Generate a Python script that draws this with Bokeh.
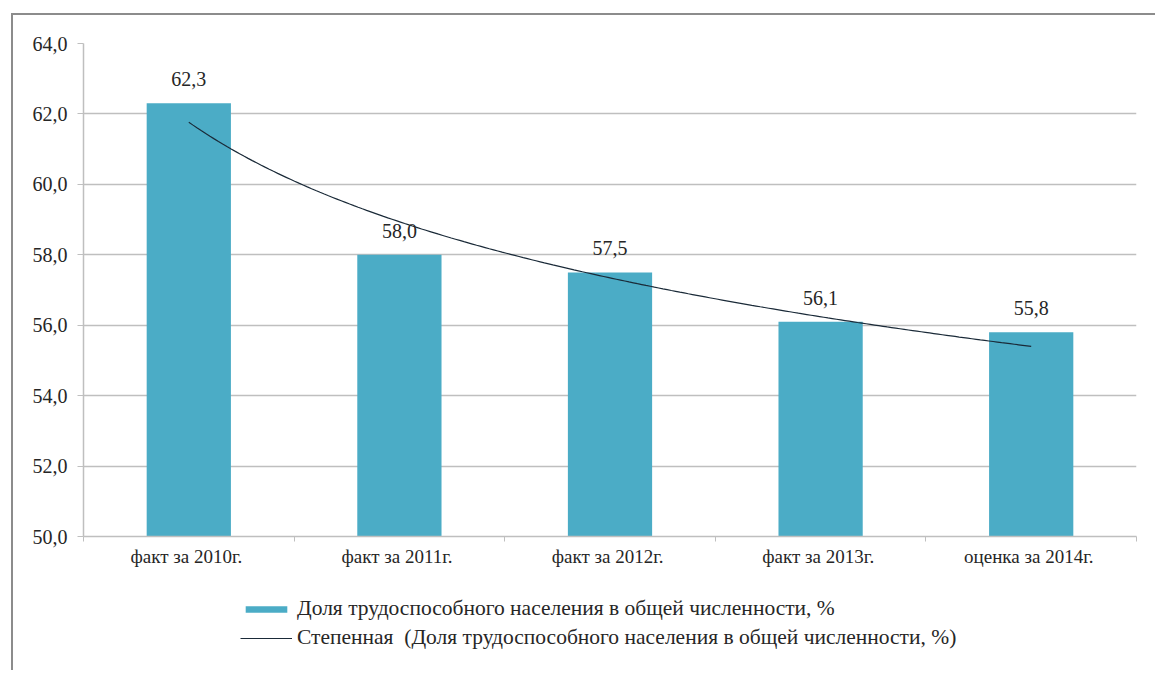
import numpy as np
from bokeh.plotting import figure
from bokeh.layouts import column
from bokeh.models import (ColumnDataSource, FixedTicker, Legend, LegendItem, Range1d)
from bokeh.core.properties import value
from bokeh.embed import file_html
from bokeh.resources import INLINE

categories = ["факт за  2010г.", "факт за  2011г.", "факт за  2012г.", "факт за  2013г.", "оценка за  2014г."]
shares = [62.3, 58.0, 57.5, 56.1, 55.8]
y_ticks = [50, 52, 54, 56, 58, 60, 62, 64]
bar_label = "Доля трудоспособного населения в общей численности, %"
trend_label = "Степенная  (Доля трудоспособного населения в общей численности, %)"

FONT = "Liberation Serif"
TXT = "#262626"
GRID = "#bfbfbf"
BAR = "#4BACC6"
TREND = "#1a2a38"

n = len(categories)
xc = [i + 0.5 for i in range(n)]
labels = [f"{v:.1f}".replace(".", ",") for v in shares]
src = ColumnDataSource(dict(x=xc, y=shares, lab=labels))

# power trend y = a * k^b fitted on (k, y), k = 1..n
k = np.arange(1, n + 1)
b, ln_a = np.polyfit(np.log(k), np.log(shares), 1)
kk = np.linspace(1, n, 200)
trend_y = np.exp(ln_a) * kk ** b
trend_x = kk - 0.5

p = figure(width=1142, height=575, output_backend="svg", toolbar_location=None,
           x_range=Range1d(0, n), y_range=Range1d(50, 64),
           min_border_left=70, min_border_top=28, min_border_right=19, min_border_bottom=54)
p.outline_line_color = None
p.background_fill_color = "white"
p.border_fill_color = "white"

p.vbar(x="x", top="y", bottom=50, width=0.4, source=src, fill_color=BAR, line_color=None)
p.line(trend_x, trend_y, line_color=TREND, line_width=1.2)
p.text(x="x", y="y", text="lab", source=src, text_align="center", text_baseline="bottom",
       y_offset=-17, text_font=value(FONT), text_font_size="20px", text_color=TXT)

# y axis
p.yaxis.ticker = FixedTicker(ticks=y_ticks)
p.yaxis.major_label_overrides = {t: f"{t:.1f}".replace(".", ",") for t in y_ticks}
p.yaxis.major_label_text_font = FONT
p.yaxis.major_label_text_font_size = "20px"
p.yaxis.major_label_text_color = TXT
p.yaxis.axis_line_color = GRID
p.yaxis.axis_line_width = 1.5
p.yaxis.major_tick_line_color = GRID
p.yaxis.major_tick_out = 6
p.yaxis.major_tick_in = 0
p.yaxis.minor_tick_line_color = None
p.yaxis.major_label_standoff = 10

# x axis: labels at centres, tick marks at boundaries
p.xaxis.ticker = FixedTicker(ticks=xc, minor_ticks=list(range(n + 1)))
p.xaxis.major_label_overrides = {x: c for x, c in zip(xc, categories)}
p.xaxis.major_label_text_font = FONT
p.xaxis.major_label_text_font_size = "19px"
p.xaxis.major_label_text_color = TXT
p.xaxis.axis_line_color = GRID
p.xaxis.axis_line_width = 1.5
p.xaxis.major_tick_line_color = None
p.xaxis.major_tick_out = 0
p.xaxis.major_tick_in = 0
p.xaxis.minor_tick_line_color = GRID
p.xaxis.minor_tick_out = 5
p.xaxis.minor_tick_in = 0
p.xaxis.major_label_standoff = 4

p.xgrid.grid_line_color = None
p.ygrid.ticker = FixedTicker(ticks=y_ticks)
p.ygrid.grid_line_color = GRID
p.ygrid.grid_line_width = 1.5

# legend lives in its own small figure below the chart (frame aligned with the chart's frame)
lf = figure(width=1142, height=80, output_backend="svg", toolbar_location=None,
            x_range=Range1d(0, 1), y_range=Range1d(0, 1), x_axis_type=None, y_axis_type=None,
            min_border=0)
lf.outline_line_color = None
lf.border_fill_color = "white"
lg_bar = lf.vbar(x=[-10], top=[-10], bottom=[-11], width=0.4, fill_color=BAR, line_color=None)
lg_line = lf.line(x=[-10, -9], y=[-10, -10], line_color=TREND, line_width=1.2)
legend = Legend(items=[LegendItem(label=bar_label, renderers=[lg_bar]),
                       LegendItem(label=trend_label, renderers=[lg_line])],
                location=(157, 20), orientation="vertical",
                label_text_font=FONT, label_text_font_size="21.5px", label_text_color=TXT,
                glyph_width=52, glyph_height=8, label_height=20, spacing=4,
                label_standoff=5, padding=0, margin=0,
                border_line_color=None, background_fill_color=None)
lf.add_layout(legend, "center")

layout = column(p, lf, spacing=0,
                styles={"border-left": "2px solid #8c8c8c", "border-top": "2px solid #8c8c8c",
                        "margin-left": "11px", "margin-top": "13px"})

open("out.html", "w").write(file_html(layout, INLINE))
